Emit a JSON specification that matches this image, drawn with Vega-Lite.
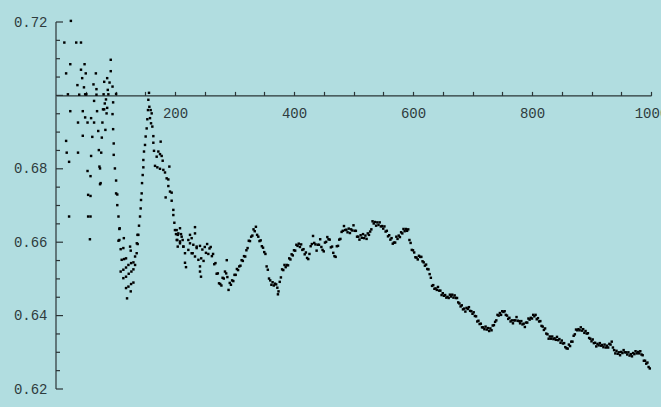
{
"$schema": "https://vega.github.io/schema/vega-lite/v6.json",
"width": 595, "height": 367,
"autosize": {"type": "none"},
"padding": {"left": 56, "top": 22, "right": 10, "bottom": 18},
"background": "#b1dde0",
"config": {"view": {"stroke": null}, "axis": {"grid": false, "title": null, "labelFont": "Liberation Mono", "labelFontSize": 14, "labelColor": "#2e3b3d", "domainColor": "#2a3436", "tickColor": "#2a3436", "domainWidth": 1.2, "tickWidth": 1.2}},
"layer": [
{
"data": {"values": [
{"n":25,"v":0.7203},{"n":14,"v":0.7144},{"n":34,"v":0.7144},{"n":42,"v":0.7144},{"n":24,"v":0.7085},{"n":48,"v":0.7085},{"n":92,"v":0.7097},{"n":17,"v":0.706},{"n":42,"v":0.707},{"n":50,"v":0.706},{"n":67,"v":0.706},{"n":92,"v":0.7066},{"n":44,"v":0.7047},{"n":86,"v":0.7047},{"n":90,"v":0.7035},{"n":81,"v":0.7037},{"n":36,"v":0.7028},{"n":63,"v":0.703},{"n":47,"v":0.7022},{"n":68,"v":0.7017},{"n":87,"v":0.7015},{"n":95,"v":0.7024},
{"n":20,"v":0.7003},{"n":39,"v":0.7002},{"n":49,"v":0.7003},{"n":51,"v":0.7003},{"n":68,"v":0.7002},{"n":80,"v":0.7003},{"n":88,"v":0.7003},{"n":101,"v":0.7004},
{"n":84,"v":0.6989},{"n":82,"v":0.6978},{"n":64,"v":0.6985},{"n":96,"v":0.6981},{"n":86,"v":0.6966},{"n":81,"v":0.6962},{"n":69,"v":0.6957},{"n":24,"v":0.6957},{"n":45,"v":0.6957},{"n":79,"v":0.6962},{"n":85,"v":0.6951},{"n":95,"v":0.6949},{"n":49,"v":0.694},{"n":59,"v":0.6938},{"n":53,"v":0.6926},{"n":64,"v":0.6926},{"n":78,"v":0.6926},{"n":37,"v":0.6926},{"n":71,"v":0.6903},{"n":83,"v":0.6906},{"n":96,"v":0.6908},{"n":45,"v":0.689},{"n":61,"v":0.6887},{"n":77,"v":0.6885},{"n":17,"v":0.6876},{"n":97,"v":0.6869},{"n":72,"v":0.6851},{"n":76,"v":0.6844},{"n":18,"v":0.6844},{"n":37,"v":0.6844},{"n":97,"v":0.6838},{"n":59,"v":0.6835},{"n":22,"v":0.6819},{"n":73,"v":0.6806},{"n":74,"v":0.6801},{"n":99,"v":0.6801},{"n":53,"v":0.6794},{"n":58,"v":0.678},{"n":101,"v":0.6768},{"n":74,"v":0.6758},{"n":75,"v":0.6761},{"n":54,"v":0.6729},{"n":58,"v":0.6726},{"n":101,"v":0.6733},{"n":103,"v":0.673},{"n":103,"v":0.6701},{"n":22,"v":0.667},{"n":54,"v":0.667},{"n":58,"v":0.667},{"n":105,"v":0.667},{"n":107,"v":0.6638},{"n":57,"v":0.6608},{"n":105,"v":0.6604},{"n":114,"v":0.6611},
{"n":106.5,"v":0.6636},{"n":106.5,"v":0.6606},{"n":108.7,"v":0.6581},{"n":113.2,"v":0.6584},{"n":110.4,"v":0.6552},{"n":114.4,"v":0.6554},{"n":117.7,"v":0.6556},{"n":124.5,"v":0.6588},{"n":125.6,"v":0.6577},{"n":108.7,"v":0.652},{"n":113.2,"v":0.6525},{"n":117.7,"v":0.6531},{"n":121.7,"v":0.6538},{"n":126.2,"v":0.6543},{"n":130.1,"v":0.6545},{"n":132.9,"v":0.6561},{"n":135.8,"v":0.6597},{"n":136.9,"v":0.662},{"n":113.2,"v":0.6502},{"n":117.7,"v":0.6506},{"n":122.2,"v":0.6514},{"n":126.7,"v":0.652},{"n":130.1,"v":0.6526},{"n":132.9,"v":0.6538},{"n":117.7,"v":0.6475},{"n":121.7,"v":0.6479},{"n":126.2,"v":0.6486},{"n":130.1,"v":0.649},{"n":119.4,"v":0.6447},{"n":125.6,"v":0.6466},
{"n":135.6,"v":0.657},{"n":137.3,"v":0.6595},{"n":138.4,"v":0.662},{"n":139.5,"v":0.6645},{"n":141.2,"v":0.667},{"n":142.3,"v":0.6692},{"n":142.9,"v":0.6715},{"n":144,"v":0.6733},{"n":144.6,"v":0.6761},{"n":145.7,"v":0.6783},{"n":146.8,"v":0.6804},{"n":146.8,"v":0.6824},{"n":147.9,"v":0.6847},{"n":149.6,"v":0.6865},{"n":150.7,"v":0.6888},{"n":152.4,"v":0.691},{"n":153.5,"v":0.6935},{"n":154.6,"v":0.696},{"n":155.2,"v":0.6988},{"n":156.3,"v":0.7007},
{"n":156.9,"v":0.6969},{"n":159.1,"v":0.696},{"n":160.8,"v":0.6951},{"n":158,"v":0.6938},{"n":159.7,"v":0.6924},{"n":161.9,"v":0.6915},{"n":163.6,"v":0.6889},{"n":163.6,"v":0.6871},{"n":175.9,"v":0.6874},{"n":164.7,"v":0.6849},{"n":172,"v":0.6847},{"n":174.8,"v":0.684},{"n":169.2,"v":0.6833},{"n":177.6,"v":0.6835},{"n":179.3,"v":0.6822},{"n":166.4,"v":0.6808},{"n":170.3,"v":0.6804},{"n":174.8,"v":0.68},{"n":180.4,"v":0.6797},{"n":190.5,"v":0.6806},{"n":183.2,"v":0.679},{"n":186,"v":0.6774},{"n":188.8,"v":0.6771},{"n":188.8,"v":0.6753},{"n":191.6,"v":0.6738},{"n":194.4,"v":0.6735},{"n":184.3,"v":0.6722},{"n":194.4,"v":0.6713},{"n":197.2,"v":0.6688},{"n":197.2,"v":0.6674},{"n":198.9,"v":0.6653},{"n":202.8,"v":0.6633},{"n":208.4,"v":0.6638},{"n":201.7,"v":0.6622},{"n":204.6,"v":0.662},{"n":210.1,"v":0.6622},{"n":203.9,"v":0.6606},{"n":208.4,"v":0.6602},{"n":212.9,"v":0.6606},{"n":204.6,"v":0.6588},{"n":214,"v":0.6588},{"n":225.2,"v":0.662},{"n":228,"v":0.6611},{"n":233.6,"v":0.6641},{"n":233.6,"v":0.6624},{"n":225.2,"v":0.6597},{"n":222.4,"v":0.6579},{"n":230.8,"v":0.6593},{"n":236.4,"v":0.6588},{"n":216.8,"v":0.657},{"n":229.7,"v":0.657},{"n":216.8,"v":0.6544},{"n":218.5,"v":0.6532},{"n":242,"v":0.6534},{"n":242,"v":0.652},{"n":243.7,"v":0.6506},
{"n":199.9,"v":0.6633},{"n":205.6,"v":0.6624},{"n":211.2,"v":0.6615},{"n":202.9,"v":0.6606},{"n":208.4,"v":0.6597},{"n":214.1,"v":0.6588},{"n":222.4,"v":0.6606},{"n":236.4,"v":0.6584},{"n":228,"v":0.657},{"n":233.6,"v":0.6561},{"n":239.3,"v":0.6552},
{"n":242,"v":0.659},{"n":244,"v":0.6556},{"n":246,"v":0.658},{"n":248,"v":0.6549},{"n":250,"v":0.6587},{"n":252,"v":0.6571},{"n":254,"v":0.6595},{"n":256,"v":0.6568},{"n":258,"v":0.6583},{"n":260,"v":0.6587},{"n":262,"v":0.6562},{"n":264,"v":0.6568},{"n":266,"v":0.654},{"n":268,"v":0.6543},{"n":270,"v":0.6514},{"n":272,"v":0.6515},{"n":274,"v":0.6488},{"n":276,"v":0.6486},{"n":278,"v":0.6482},{"n":280,"v":0.6503},{"n":282,"v":0.6501},{"n":284,"v":0.652},{"n":286,"v":0.6515},{"n":287,"v":0.6551},{"n":288,"v":0.6505},{"n":290,"v":0.647},{"n":292,"v":0.6489},{"n":294,"v":0.6484},{"n":296,"v":0.6496},{"n":298,"v":0.6494},{"n":300,"v":0.6511},{"n":302,"v":0.6511},{"n":304,"v":0.6527},{"n":306,"v":0.6524},{"n":308,"v":0.6534},{"n":310,"v":0.6536},{"n":312,"v":0.6551},{"n":314,"v":0.6549},{"n":316,"v":0.6562},{"n":318,"v":0.6561},{"n":320,"v":0.6578},{"n":322,"v":0.6584},{"n":324,"v":0.6604},{"n":326,"v":0.6603},{"n":328,"v":0.6615},{"n":330,"v":0.6618},{"n":332,"v":0.6635},{"n":334,"v":0.663},{"n":336,"v":0.6642},{"n":338,"v":0.662},{"n":340,"v":0.6615},{"n":342,"v":0.6603},{"n":344,"v":0.6605},{"n":346,"v":0.6589},{"n":348,"v":0.6585},{"n":350,"v":0.6573},{"n":352,"v":0.6568},{"n":354,"v":0.6534},{"n":356,"v":0.6525},{"n":358,"v":0.6501},{"n":360,"v":0.6496},{"n":362,"v":0.6484},{"n":364,"v":0.6491},{"n":366,"v":0.6482},{"n":368,"v":0.6487},{"n":370,"v":0.6485},{"n":372,"v":0.6476},{"n":373,"v":0.6458},{"n":374,"v":0.6466},{"n":376,"v":0.6492},{"n":378,"v":0.6504},{"n":380,"v":0.6526},{"n":382,"v":0.6524},{"n":384,"v":0.6538},{"n":386,"v":0.6532},{"n":388,"v":0.6538},{"n":390,"v":0.6537},{"n":392,"v":0.6556},{"n":394,"v":0.6553},{"n":396,"v":0.6567},{"n":398,"v":0.6564},{"n":400,"v":0.6578},{"n":402,"v":0.6577},{"n":404,"v":0.6593},{"n":406,"v":0.659},{"n":408,"v":0.6596},{"n":410,"v":0.6587},{"n":412,"v":0.6594},{"n":414,"v":0.6579},{"n":416,"v":0.6581},{"n":418,"v":0.6567},{"n":420,"v":0.6572},{"n":422,"v":0.6557},{"n":424,"v":0.6554},{"n":426,"v":0.6568},{"n":428,"v":0.6589},{"n":430,"v":0.6595},{"n":432,"v":0.6617},{"n":434,"v":0.6598},{"n":436,"v":0.6594},{"n":438,"v":0.6577},{"n":440,"v":0.6593},{"n":442,"v":0.6593},{"n":444,"v":0.6608},{"n":446,"v":0.6587},{"n":448,"v":0.6579},{"n":450,"v":0.6575},{"n":452,"v":0.6599},{"n":454,"v":0.6601},{"n":456,"v":0.6614},{"n":458,"v":0.6608},{"n":460,"v":0.6607},{"n":462,"v":0.6586},{"n":464,"v":0.6588},{"n":466,"v":0.6571},{"n":468,"v":0.6562},{"n":470,"v":0.656},{"n":472,"v":0.6589},{"n":474,"v":0.659},{"n":476,"v":0.6607},{"n":478,"v":0.6609},{"n":480,"v":0.6628},{"n":482,"v":0.6631},{"n":484,"v":0.6644},{"n":486,"v":0.6633},{"n":488,"v":0.6634},{"n":490,"v":0.6627},{"n":492,"v":0.6637},{"n":494,"v":0.6625},{"n":496,"v":0.6635},{"n":498,"v":0.6632},{"n":500,"v":0.6646},{"n":502,"v":0.6631},{"n":504,"v":0.6631},{"n":506,"v":0.6615},{"n":508,"v":0.6615},{"n":510,"v":0.6607},{"n":512,"v":0.6619},{"n":514,"v":0.6612},{"n":516,"v":0.6622},{"n":518,"v":0.6611},{"n":520,"v":0.6618},{"n":522,"v":0.6609},{"n":524,"v":0.6624},{"n":526,"v":0.662},{"n":528,"v":0.6629},{"n":530,"v":0.6635},{"n":532,"v":0.6657},{"n":534,"v":0.6651},{"n":536,"v":0.6655},{"n":538,"v":0.6645},{"n":540,"v":0.6654},{"n":542,"v":0.6647},{"n":544,"v":0.6654},{"n":546,"v":0.6643},{"n":548,"v":0.6644},{"n":550,"v":0.6637},{"n":552,"v":0.6643},{"n":554,"v":0.6629},{"n":556,"v":0.6631},{"n":558,"v":0.6616},{"n":560,"v":0.6619},{"n":562,"v":0.6607},{"n":564,"v":0.6611},{"n":566,"v":0.6596},{"n":568,"v":0.6599},{"n":570,"v":0.6599},{"n":572,"v":0.6615},{"n":574,"v":0.6609},{"n":576,"v":0.6618},{"n":578,"v":0.6614},{"n":580,"v":0.6627},{"n":582,"v":0.6624},{"n":584,"v":0.6636},{"n":586,"v":0.663},{"n":588,"v":0.6636},{"n":590,"v":0.6631},{"n":592,"v":0.6635},{"n":594,"v":0.6606},{"n":596,"v":0.6598},{"n":598,"v":0.6579},{"n":600,"v":0.6578},
{"n":602,"v":0.6572},{"n":604,"v":0.6559},{"n":606,"v":0.6558},{"n":608,"v":0.6553},{"n":610,"v":0.6563},{"n":612,"v":0.656},{"n":614,"v":0.656},{"n":616,"v":0.6548},{"n":618,"v":0.6545},{"n":620,"v":0.6536},{"n":622,"v":0.6539},{"n":624,"v":0.6527},{"n":626,"v":0.6526},{"n":628,"v":0.6513},{"n":630,"v":0.6503},{"n":632,"v":0.6481},{"n":634,"v":0.6483},{"n":636,"v":0.6473},{"n":638,"v":0.6474},{"n":640,"v":0.647},{"n":642,"v":0.6478},{"n":644,"v":0.6468},{"n":646,"v":0.6468},{"n":648,"v":0.6456},{"n":650,"v":0.6461},{"n":652,"v":0.6454},{"n":654,"v":0.6456},{"n":656,"v":0.6449},{"n":658,"v":0.6451},{"n":660,"v":0.6448},{"n":662,"v":0.6457},{"n":664,"v":0.6452},{"n":666,"v":0.6457},{"n":668,"v":0.6449},{"n":670,"v":0.6455},{"n":672,"v":0.6448},{"n":674,"v":0.6448},{"n":676,"v":0.6436},{"n":678,"v":0.6433},{"n":680,"v":0.6425},{"n":682,"v":0.6428},{"n":684,"v":0.6417},{"n":686,"v":0.6419},{"n":688,"v":0.6411},{"n":690,"v":0.6421},{"n":692,"v":0.6418},{"n":694,"v":0.6423},{"n":696,"v":0.6413},{"n":698,"v":0.6412},{"n":700,"v":0.6405},{"n":702,"v":0.6409},{"n":704,"v":0.6399},{"n":706,"v":0.6398},{"n":708,"v":0.6384},{"n":710,"v":0.6386},{"n":712,"v":0.6377},{"n":714,"v":0.6378},{"n":716,"v":0.6368},{"n":718,"v":0.6368},{"n":720,"v":0.6363},{"n":722,"v":0.637},{"n":724,"v":0.6362},{"n":726,"v":0.6366},{"n":728,"v":0.6358},{"n":730,"v":0.6365},{"n":732,"v":0.636},{"n":734,"v":0.6373},{"n":736,"v":0.6374},{"n":738,"v":0.6383},{"n":740,"v":0.6387},{"n":742,"v":0.6402},{"n":744,"v":0.64},{"n":746,"v":0.6407},{"n":748,"v":0.6402},{"n":750,"v":0.6412},{"n":752,"v":0.641},{"n":754,"v":0.6412},{"n":756,"v":0.6402},{"n":758,"v":0.64},{"n":760,"v":0.6391},{"n":762,"v":0.6394},{"n":764,"v":0.6384},{"n":766,"v":0.6387},{"n":768,"v":0.6379},{"n":770,"v":0.6387},{"n":772,"v":0.6387},{"n":774,"v":0.6396},{"n":776,"v":0.6386},{"n":778,"v":0.6385},{"n":780,"v":0.6379},{"n":782,"v":0.6385},{"n":784,"v":0.6376},{"n":786,"v":0.6378},{"n":788,"v":0.6369},{"n":790,"v":0.6381},{"n":792,"v":0.6381},{"n":794,"v":0.6392},{"n":796,"v":0.6389},{"n":798,"v":0.6394},{"n":800,"v":0.6392},{"n":802,"v":0.6402},{"n":804,"v":0.6398},{"n":806,"v":0.6402},{"n":808,"v":0.639},{"n":810,"v":0.6393},{"n":812,"v":0.6384},{"n":814,"v":0.6385},{"n":816,"v":0.6372},{"n":818,"v":0.637},{"n":820,"v":0.6361},{"n":822,"v":0.6365},{"n":824,"v":0.6351},{"n":826,"v":0.6349},{"n":828,"v":0.6337},{"n":830,"v":0.6343},{"n":832,"v":0.6337},{"n":834,"v":0.6343},{"n":836,"v":0.6336},{"n":838,"v":0.6338},{"n":840,"v":0.6334},{"n":842,"v":0.6342},{"n":844,"v":0.6333},{"n":846,"v":0.6336},{"n":848,"v":0.6326},{"n":850,"v":0.6332},{"n":852,"v":0.6324},{"n":854,"v":0.6325},{"n":856,"v":0.6314},{"n":858,"v":0.6311},{"n":860,"v":0.631},{"n":862,"v":0.6321},{"n":864,"v":0.6317},{"n":866,"v":0.6329},{"n":868,"v":0.6329},{"n":870,"v":0.6345},{"n":872,"v":0.6349},{"n":874,"v":0.6362},{"n":876,"v":0.636},{"n":878,"v":0.6363},{"n":880,"v":0.636},{"n":882,"v":0.6368},{"n":884,"v":0.6359},{"n":886,"v":0.6363},{"n":888,"v":0.6353},{"n":890,"v":0.6358},{"n":892,"v":0.6351},{"n":894,"v":0.6352},{"n":896,"v":0.6339},{"n":898,"v":0.6337},{"n":900,"v":0.633},{"n":902,"v":0.6335},{"n":904,"v":0.6325},{"n":906,"v":0.6326},{"n":908,"v":0.6316},{"n":910,"v":0.6323},{"n":912,"v":0.6319},{"n":914,"v":0.6325},{"n":916,"v":0.6318},{"n":918,"v":0.632},{"n":920,"v":0.6314},{"n":922,"v":0.6321},{"n":924,"v":0.6313},{"n":926,"v":0.6318},{"n":928,"v":0.6313},{"n":930,"v":0.6323},{"n":932,"v":0.6321},{"n":934,"v":0.6329},{"n":936,"v":0.6313},{"n":938,"v":0.6306},{"n":940,"v":0.6297},{"n":942,"v":0.6304},{"n":944,"v":0.6296},{"n":946,"v":0.63},{"n":948,"v":0.6292},{"n":950,"v":0.6301},{"n":952,"v":0.6298},{"n":954,"v":0.6306},{"n":956,"v":0.63},{"n":958,"v":0.63},{"n":960,"v":0.6294},{"n":962,"v":0.63},{"n":964,"v":0.6291},{"n":966,"v":0.6295},{"n":968,"v":0.6289},{"n":970,"v":0.6298},{"n":972,"v":0.6295},{"n":974,"v":0.6303},{"n":976,"v":0.6297},{"n":978,"v":0.6301},{"n":980,"v":0.6297},{"n":982,"v":0.6303},{"n":984,"v":0.6294},{"n":986,"v":0.6292},{"n":988,"v":0.6277},{"n":990,"v":0.6277},{"n":992,"v":0.6269},{"n":994,"v":0.6272},{"n":996,"v":0.626},{"n":998,"v":0.6256}
]},
"mark": {"type": "square", "size": 6, "color": "#000000", "opacity": 1},
"encoding": {
"x": {"field": "n", "type": "quantitative", "scale": {"domain": [0, 1000], "nice": false, "zero": false},
 "axis": {"orient": "bottom", "offset": {"expr": "scale('y', 0.7) - height"}, "values": [200, 400, 600, 800, 1000], "format": "d", "ticks": false, "domain": false, "labelPadding": 11, "labelFlush": false, "labelOverlap": false, "labelBound": false}},
"y": {"field": "v", "type": "quantitative", "scale": {"domain": [0.62, 0.72], "nice": false, "zero": false},
 "axis": {"orient": "left", "values": [0.62, 0.64, 0.66, 0.68, 0.72], "format": ".2f", "ticks": false, "domain": false, "labelPadding": 9, "labelOverlap": false}}
}
},
{
"data": {"values": [{"n": 0, "v": 0.62}]},
"mark": {"type": "point", "opacity": 0},
"encoding": {
"x": {"field": "n", "type": "quantitative", "axis": {"orient": "top", "offset": {"expr": "-scale('y', 0.7)"}, "values": [50,100,150,200,250,300,350,400,450,500,550,600,650,700,750,800,850,900,950,1000], "tickSize": 4, "labels": false, "domain": true}},
"y": {"field": "v", "type": "quantitative", "axis": null}
}
},
{
"data": {"values": [{"lo": 0.62, "hi": 0.72}]},
"mark": {"type": "rule", "color": "#2a3436", "strokeWidth": 1.2},
"encoding": {
"x": {"datum": 0, "type": "quantitative", "axis": null},
"y": {"field": "lo", "type": "quantitative", "axis": null},
"y2": {"field": "hi"}
}
},
{
"data": {"values": [{"t":0.625},{"t":0.63},{"t":0.635},{"t":0.645},{"t":0.65},{"t":0.655},{"t":0.665},{"t":0.67},{"t":0.675},{"t":0.685},{"t":0.69},{"t":0.695},{"t":0.705},{"t":0.71},{"t":0.715}]},
"mark": {"type": "tick", "orient": "horizontal", "size": 4, "thickness": 1.2, "xOffset": 2, "color": "#2a3436", "opacity": 1},
"encoding": {
"x": {"datum": 0, "type": "quantitative", "axis": null},
"y": {"field": "t", "type": "quantitative", "axis": null}
}
},
{
"data": {"values": [{"t":0.62},{"t":0.64},{"t":0.66},{"t":0.68},{"t":0.7},{"t":0.72}]},
"mark": {"type": "tick", "orient": "horizontal", "size": 7, "thickness": 1.2, "xOffset": 3.5, "color": "#2a3436", "opacity": 1},
"encoding": {
"x": {"datum": 0, "type": "quantitative", "axis": null},
"y": {"field": "t", "type": "quantitative", "axis": null}
}
}
],
"resolve": {"axis": {"x": "independent", "y": "independent"}}
}
